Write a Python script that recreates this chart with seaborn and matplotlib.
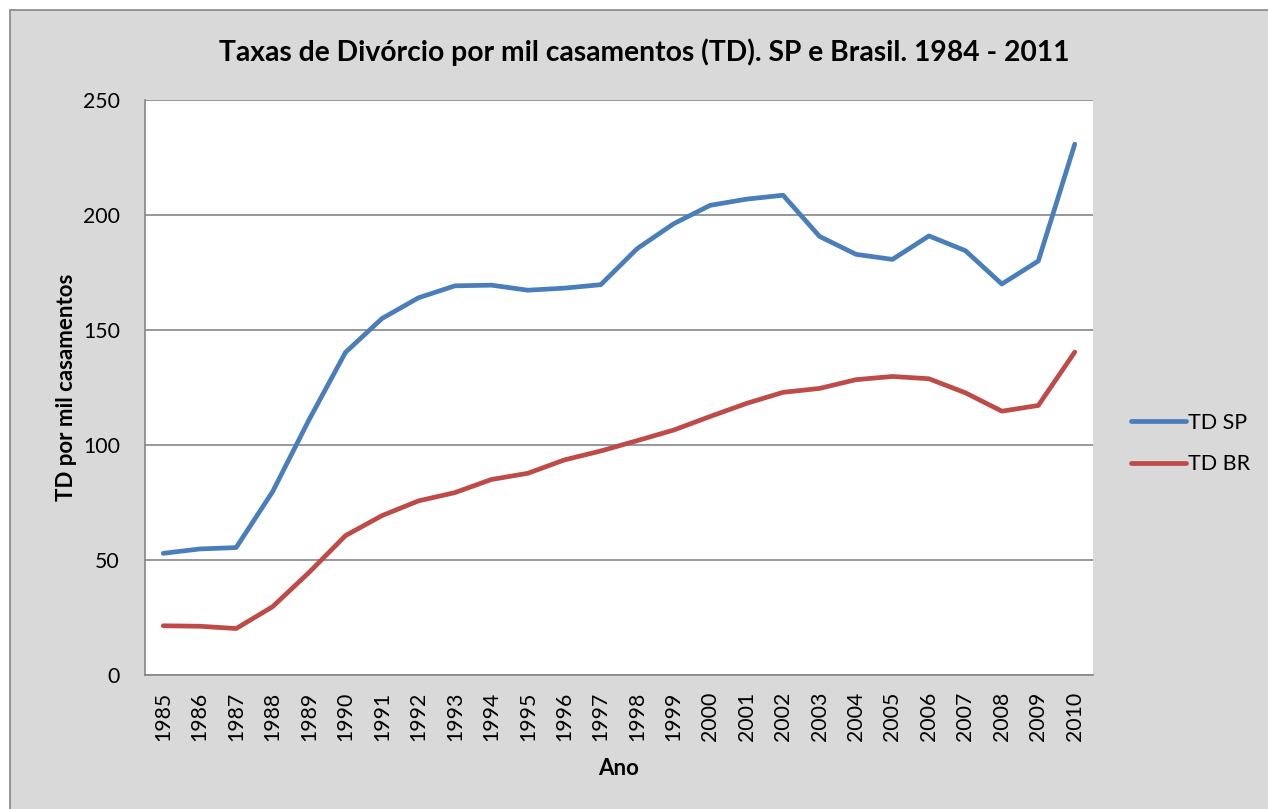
import numpy as np
import pandas as pd
import matplotlib
matplotlib.use("Agg")
import matplotlib.pyplot as plt
from matplotlib.patches import Rectangle
import seaborn as sns

anos = list(range(1985, 2011))
td_sp = [52.9, 54.8, 55.4, 79.7, 111.0, 140.3, 155.0, 164.0, 169.2, 169.5, 167.3, 168.2, 169.7,
         185.4, 196.2, 204.2, 206.9, 208.6, 190.7, 182.9, 180.7, 190.9, 184.5, 170.0, 180.0, 230.8]
td_br = [21.4, 21.2, 20.2, 29.7, 44.6, 60.6, 69.3, 75.7, 79.3, 85.0, 87.7, 93.5, 97.4,
         101.9, 106.5, 112.4, 118.1, 122.9, 124.6, 128.4, 129.8, 128.8, 122.7, 114.7, 117.2, 140.4]
series = ["TD SP", "TD BR"]
cores = ["#4A7EBB", "#BE4B48"]

df = pd.DataFrame({
    "pos": list(range(len(anos))) * 2,
    "valor": td_sp + td_br,
    "serie": [series[0]] * len(anos) + [series[1]] * len(anos),
})

sns.set_style("white")
plt.rcParams['font.family'] = ['Lato', 'DejaVu Sans']
plt.rcParams['text.color'] = 'black'
plt.rcParams['axes.labelcolor'] = 'black'
plt.rcParams['xtick.color'] = 'black'
plt.rcParams['ytick.color'] = 'black'

fig = plt.figure(figsize=(12.68, 8.09), dpi=100)
fig.patch.set_facecolor("white")
# chart area background with border (Excel style)
fig.patches.append(Rectangle((10 / 1268, -0.05), 1.1, 1 - 10 / 809 + 0.05, transform=fig.transFigure,
                             facecolor="#D9D9D9", edgecolor="#868686", linewidth=1.2, zorder=-10))

ax = fig.add_axes([145 / 1268, 1 - 675 / 809, (1093 - 145) / 1268, (675 - 100) / 809])
ax.set_facecolor("white")

sns.lineplot(data=df, x="pos", y="valor", hue="serie", palette=cores, linewidth=3.4,
             ax=ax, sort=False, legend=True)

ax.set_xlim(-0.5, len(anos) - 0.5)
ax.set_ylim(0, 250)
ax.set_yticks(np.arange(0, 251, 50))
ax.yaxis.grid(True, color="#868686", linewidth=1.2)
ax.set_axisbelow(True)

ax.set_xticks(np.arange(len(anos)))
ax.set_xticklabels([str(a) for a in anos], rotation=90, fontsize=15.3)
ax.set_xticks(np.arange(-0.5, len(anos)), minor=True)
ax.tick_params(axis="x", which="major", length=0, pad=12, labelcolor="black")
ax.tick_params(axis="x", which="minor", length=6, width=1.2, color="#868686", direction="out")
ax.tick_params(axis="y", length=6, width=1.2, color="#868686", direction="out", labelsize=15.3,
               pad=12, labelcolor="black")

for s in ["top", "right"]:
    ax.spines[s].set_visible(False)
for s in ["left", "bottom"]:
    ax.spines[s].set_color("#868686")
    ax.spines[s].set_linewidth(1.2)

ax.set_xlabel("Ano", fontsize=16, fontweight="bold", labelpad=12)
ax.set_ylabel("TD por mil casamentos", fontsize=16, fontweight="bold", labelpad=4)
fig.text(0.5 * (218 + 1070) / 1268, 1 - 52 / 809,
         "Taxas de Divórcio por mil casamentos (TD). SP e Brasil. 1984 - 2011",
         ha="center", va="center", fontsize=20.3, fontweight="bold")

handles, labels = ax.get_legend_handles_labels()
ax.legend(handles, labels, loc="center left", bbox_to_anchor=(1.04, 0.4026), frameon=False,
          fontsize=15.5, handlelength=2.55, handletextpad=0.1, labelspacing=1.0,
          borderaxespad=0, borderpad=0)

fig.savefig("out.png", dpi=100, facecolor=fig.get_facecolor())
